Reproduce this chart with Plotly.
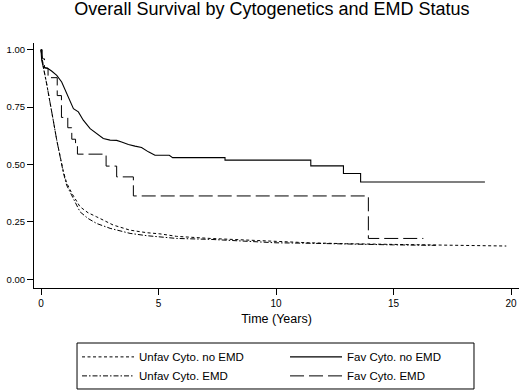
import plotly.graph_objects as go

# Unfavourable cytogenetics, no EMD (short dash)
unfav_noemd_t = [0, 0.1, 0.24, 0.38, 0.52, 0.67, 0.81, 0.95, 1.09, 1.31, 1.66, 2.0, 2.37, 3.08,
                 3.79, 4.5, 5.06, 5.77, 7.2, 8.6, 10.0, 11.4, 13.0, 15.0, 17.0, 19.8]
unfav_noemd_s = [1.0, 0.924, 0.852, 0.78, 0.693, 0.606, 0.533, 0.47, 0.42, 0.375, 0.316, 0.29, 0.272, 0.236,
                 0.214, 0.203, 0.198, 0.187, 0.178, 0.171, 0.164, 0.159, 0.155, 0.152, 0.149, 0.145]

# Unfavourable cytogenetics, EMD (dash-dot)
unfav_emd_t = [0, 0.1, 0.24, 0.38, 0.52, 0.67, 0.81, 0.95, 1.09, 1.31, 1.66, 2.0, 2.37, 2.94,
               3.79, 4.5, 5.77, 7.2, 8.6, 10.0, 11.4, 13.0, 15.0, 16.8]
unfav_emd_s = [1.0, 0.924, 0.852, 0.78, 0.693, 0.606, 0.533, 0.465, 0.41, 0.365, 0.294, 0.265, 0.243, 0.222,
               0.2, 0.19, 0.178, 0.174, 0.168, 0.159, 0.157, 0.153, 0.150, 0.148]

# Favourable cytogenetics, no EMD (solid)
fav_noemd_t = [0, 0.03, 0.1, 0.31, 0.45, 0.67, 0.88, 1.09, 1.23, 1.38, 1.59, 1.8, 2.09, 2.37, 2.65,
               2.94, 3.22, 3.43, 3.72, 4.0, 4.28, 4.57, 4.85, 5.46, 5.6, 7.83, 7.83, 11.48, 11.48,
               12.87, 12.87, 13.6, 13.6, 18.89]
fav_noemd_s = [1.0, 0.953, 0.924, 0.917, 0.907, 0.888, 0.859, 0.809, 0.772, 0.743, 0.729, 0.693, 0.656,
               0.635, 0.613, 0.606, 0.605, 0.598, 0.587, 0.58, 0.574, 0.555, 0.54, 0.54, 0.53, 0.53,
               0.519, 0.519, 0.494, 0.494, 0.461, 0.461, 0.424, 0.424]

# Favourable cytogenetics, EMD (long dash, step)
fav_emd_t = [0, 0.05, 0.15, 0.3, 0.69, 0.87, 1.14, 1.31, 1.47, 1.55, 2.77, 3.22, 3.93, 13.93, 16.27]
fav_emd_s = [1.0, 0.96, 0.92, 0.878, 0.80, 0.705, 0.66, 0.61, 0.58, 0.545, 0.493, 0.446, 0.363, 0.178, 0.178]

x_ticks = [0, 5, 10, 15, 20]
y_ticks = [0, 0.25, 0.5, 0.75, 1.0]

FONT = "Liberation Sans, Arial, Helvetica, sans-serif"

fig = go.Figure()
fig.add_trace(go.Scatter(x=unfav_noemd_t, y=unfav_noemd_s, mode="lines", name="Unfav Cyto. no EMD",
                         line=dict(color="black", width=1, dash="3px,2.5px")))
fig.add_trace(go.Scatter(x=fav_noemd_t, y=fav_noemd_s, mode="lines", name="Fav Cyto. no EMD",
                         line=dict(color="black", width=1.1)))
fig.add_trace(go.Scatter(x=unfav_emd_t, y=unfav_emd_s, mode="lines", name="Unfav Cyto. EMD",
                         line=dict(color="black", width=1, dash="5px,2px,1.5px,2px")))
fig.add_trace(go.Scatter(x=fav_emd_t, y=fav_emd_s, mode="lines", name="Fav Cyto. EMD",
                         line=dict(color="black", width=1, dash="14px,5px", shape="hv")))

fig.update_layout(
    width=520, height=390,
    margin=dict(l=34, r=1, t=43, b=102, autoexpand=False),
    paper_bgcolor="white", plot_bgcolor="white",
    font=dict(family=FONT, color="black", size=10),
    title=dict(text="Overall Survival by Cytogenetics and EMD Status",
               x=0.523, xanchor="center", y=0.977, yanchor="middle",
               font=dict(size=18, family=FONT, color="black")),
    xaxis=dict(range=[-0.298, 20.34], tickvals=x_ticks, showline=True, linecolor="black",
               linewidth=1, ticks="outside", ticklen=6, tickcolor="black", showgrid=False,
               zeroline=False, tickfont=dict(size=10), automargin=False,
               title=dict(text="Time (Years)", font=dict(size=12.5), standoff=6)),
    yaxis=dict(range=[-0.0378, 1.029], tickvals=y_ticks, tickformat=".2f", showline=True,
               linecolor="black", linewidth=1, ticks="outside", ticklen=6, tickcolor="black",
               showgrid=False, zeroline=False, tickfont=dict(size=9.5), automargin=False),
    showlegend=True,
    legend=dict(orientation="h", x=0.0887, xanchor="left", y=-0.222, yanchor="top",
                borderwidth=0, bgcolor="rgba(0,0,0,0)",
                entrywidth=141, entrywidthmode="pixels", traceorder="normal",
                font=dict(size=11.5), tracegroupgap=0, itemwidth=52),
    shapes=[dict(type="rect", xref="paper", yref="paper",
                 x0=0.0887, x1=0.9072, y0=-0.2245, y1=-0.4122,
                 line=dict(color="black", width=1), fillcolor="rgba(0,0,0,0)", layer="below")],
)

fig.write_html("out.html", config={"displayModeBar": False},
               post_script="document.body.style.margin='0';document.body.style.padding='0';")
